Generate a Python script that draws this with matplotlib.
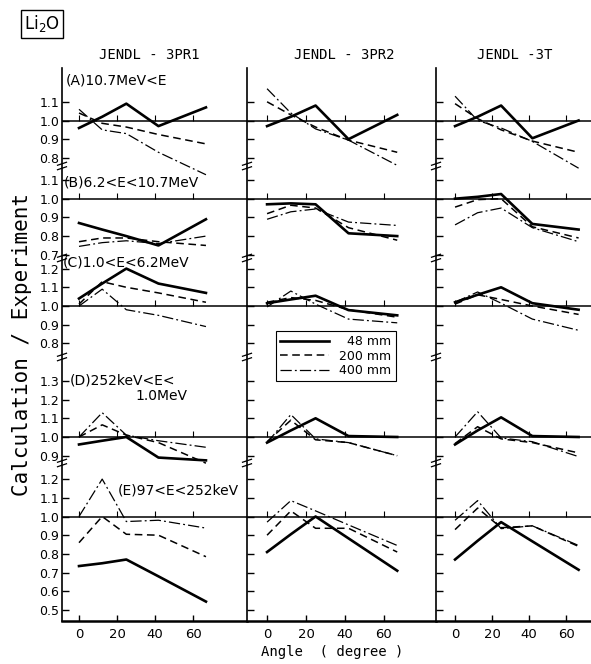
import matplotlib.pyplot as plt
import numpy as np
from matplotlib.lines import Line2D

# angles of the detectors (degree)
angles = [0, 12.2, 24.9, 41.8, 66.8]

# energy sections and their tick values
sections = ['A', 'B', 'C', 'D', 'E']
sec_labels = ['(A)10.7MeV<E', '(B)6.2<E<10.7MeV', '(C)1.0<E<6.2MeV',
              '(D)252keV<E<', '(E)97<E<252keV']
sec_ticks = [[0.8, 0.9, 1.0, 1.1],
             [0.7, 0.8, 0.9, 1.0, 1.1],
             [0.8, 0.9, 1.0, 1.1, 1.2],
             [0.9, 1.0, 1.1, 1.2, 1.3],
             [0.5, 0.6, 0.7, 0.8, 0.9, 1.0, 1.1, 1.2]]

# C/E values, one list per section A..E
pr1_48 = [[0.96, 1.02, 1.09, 0.97, 1.07],
          [0.87, 0.835, 0.80, 0.75, 0.89],
          [1.04, 1.12, 1.20, 1.12, 1.07],
          [0.96, 0.98, 1.00, 0.89, 0.875],
          [0.735, 0.75, 0.77, 0.68, 0.545]]
pr1_200 = [[1.04, 0.985, 0.965, 0.925, 0.875],
           [0.77, 0.79, 0.79, 0.77, 0.75],
           [1.01, 1.13, 1.10, 1.07, 1.02],
           [1.00, 1.065, 1.01, 0.97, 0.86],
           [0.86, 1.00, 0.905, 0.90, 0.785]]
pr1_400 = [[1.06, 0.95, 0.93, 0.83, 0.71],
           [0.745, 0.765, 0.775, 0.76, 0.80],
           [1.00, 1.09, 0.98, 0.95, 0.89],
           [1.00, 1.13, 1.01, 0.98, 0.945],
           [1.00, 1.20, 0.973, 0.98, 0.938]]

pr2_48 = [[0.97, 1.02, 1.08, 0.90, 1.03],
          [0.97, 0.975, 0.97, 0.815, 0.80],
          [1.015, 1.035, 1.055, 0.978, 0.95],
          [0.97, 1.035, 1.10, 1.005, 1.00],
          [0.81, 0.905, 1.00, 0.883, 0.71]]
pr2_200 = [[1.10, 1.03, 0.965, 0.895, 0.83],
           [0.92, 0.965, 0.95, 0.845, 0.778],
           [1.02, 1.045, 1.03, 0.98, 0.94],
           [0.975, 1.09, 0.985, 0.97, 0.90],
           [0.90, 1.03, 0.937, 0.937, 0.81]]
pr2_400 = [[1.17, 1.04, 0.955, 0.895, 0.76],
           [0.89, 0.93, 0.945, 0.875, 0.857],
           [0.995, 1.08, 1.01, 0.93, 0.91],
           [0.97, 1.12, 0.99, 0.97, 0.90],
           [0.97, 1.085, 1.03, 0.955, 0.845]]

t3_48 = [[0.97, 1.02, 1.08, 0.905, 1.00],
         [1.00, 1.01, 1.025, 0.865, 0.835],
         [1.02, 1.06, 1.10, 1.015, 0.98],
         [0.96, 1.035, 1.105, 1.005, 1.00],
         [0.77, 0.87, 0.97, 0.867, 0.715]]
t3_200 = [[1.09, 1.01, 0.95, 0.89, 0.83],
          [0.955, 0.995, 1.00, 0.85, 0.79],
          [1.01, 1.06, 1.035, 1.00, 0.955],
          [0.965, 1.055, 0.99, 0.97, 0.915],
          [0.93, 1.045, 0.94, 0.95, 0.84]]
t3_400 = [[1.13, 1.00, 0.96, 0.888, 0.745],
          [0.86, 0.925, 0.95, 0.845, 0.77],
          [1.02, 1.075, 1.015, 0.93, 0.87],
          [1.00, 1.135, 0.995, 0.975, 0.895],
          [0.98, 1.085, 0.935, 0.95, 0.845]]

titles = ['JENDL - 3PR1', 'JENDL - 3PR2', 'JENDL -3T']
legend_labels = ['  48 mm', '200 mm', '400 mm']
x_ticks = [0, 20, 40, 60]

# layout (pixels of the 591x664 picture)
W, H = 591, 664
PX = 187.0                      # pixels per unit of C/E
top_px, bot_px = 68, 621
one_px = [120.5, 198.7, 306, 437, 516.5]   # where 1.0 of each section sits
break_px = [166, 258, 357, 463]
offs = [(bot_px - p) / PX - 1.0 for p in one_px]
breaks = [(bot_px - p) / PX for p in break_px]
ymax = (bot_px - top_px) / PX

col_px = [(62, 247, -8.95, 88.4), (247, 436, -10.3, 86.7), (436, 591, -10.3, 73.5)]
col_data = [(pr1_48, pr1_200, pr1_400), (pr2_48, pr2_200, pr2_400), (t3_48, t3_200, t3_400)]


def fx(p):
    return p / W


def fy(p):
    return 1 - p / H


styles = [dict(color='k', lw=1.9, ls='-'),
          dict(color='k', lw=1.1, ls=(0, (5, 3))),
          dict(color='k', lw=0.9, ls=(0, (9, 2.5, 1.5, 2.5)))]

fig = plt.figure(figsize=(W / 100, H / 100), dpi=100)

yt = [v + offs[k] for k in range(5) for v in sec_ticks[k]]
yl = ['%.1f' % v for k in range(5) for v in sec_ticks[k]]

axes = []
for i, (l, r, x0, x1) in enumerate(col_px):
    ax = fig.add_axes([fx(l), fy(bot_px), fx(r) - fx(l), (bot_px - top_px) / H])
    ax.set_xlim(x0, x1)
    ax.set_ylim(0, ymax)
    for s in ['top', 'right']:
        ax.spines[s].set_visible(False)
    ax.spines['left'].set_linewidth(1.2)
    ax.spines['bottom'].set_linewidth(1.8)
    ax.set_yticks(yt)
    if i == 0:
        ax.set_yticklabels(yl, fontsize=9)
    else:
        ax.set_yticklabels([])
    ax.tick_params(axis='y', direction='in', length=5, width=1, pad=2)
    ax.set_xticks(x_ticks)
    ax.set_xticklabels([str(t) for t in x_ticks], fontsize=9.5)
    ax.tick_params(axis='x', direction='in', length=4, width=1, pad=5)

    # 1.0 reference lines with small angle ticks
    for k in range(5):
        ax.axhline(1 + offs[k], color='k', lw=1.1)
        ax.vlines(x_ticks, 1 + offs[k], 1 + offs[k] + 0.03, color='k', lw=0.8)

    # axis break marks
    trans = ax.get_yaxis_transform()
    hw = 4.5 / (r - l)
    for b in breaks:
        for d in (-0.012, 0.012):
            ax.plot([-hw, hw], [b + d - 0.008, b + d + 0.008], color='k', lw=0.9,
                    transform=trans, clip_on=False)

    for s, series in enumerate(col_data[i]):
        for k in range(5):
            ax.plot(angles, np.array(series[k]) + offs[k], **styles[s])
    axes.append(ax)

# legend in the middle column
handles = [Line2D([], [], **st) for st in styles]
leg = axes[1].legend(handles, legend_labels, loc='upper left',
                     bbox_to_anchor=(fx(276), fy(331)), bbox_transform=fig.transFigure,
                     fancybox=False, edgecolor='k', framealpha=1, fontsize=9,
                     handlelength=3.9, handletextpad=0.8, borderpad=0.35,
                     labelspacing=0.1, borderaxespad=0)
leg.get_frame().set_linewidth(0.8)

# section labels
lab_pos = [(66, 80), (64, 183), (63, 262), (70, 380), (118, 491)]
for k in range(5):
    fig.text(fx(lab_pos[k][0]), fy(lab_pos[k][1]), sec_labels[k], fontsize=10,
             ha='left', va='center')
fig.text(fx(135), fy(396), '1.0MeV', fontsize=10, ha='left', va='center')

# titles and axis labels
for t, cx in zip(titles, [149, 344, 515]):
    fig.text(fx(cx), fy(55), t, fontsize=10, family='DejaVu Sans Mono',
             ha='center', va='center')
fig.text(fx(22), fy(345), 'Calculation / Experiment', rotation=90, fontsize=15,
         family='DejaVu Sans Mono', ha='center', va='center')
fig.text(fx(332), fy(652), 'Angle  ( degree )', fontsize=10,
         family='DejaVu Sans Mono', ha='center', va='center')
fig.text(fx(24), fy(24), 'Li$_2$O', fontsize=12, ha='left', va='center',
         bbox=dict(boxstyle='square,pad=0.2', fc='white', ec='k', lw=1))

fig.savefig('out.png', dpi=100)
